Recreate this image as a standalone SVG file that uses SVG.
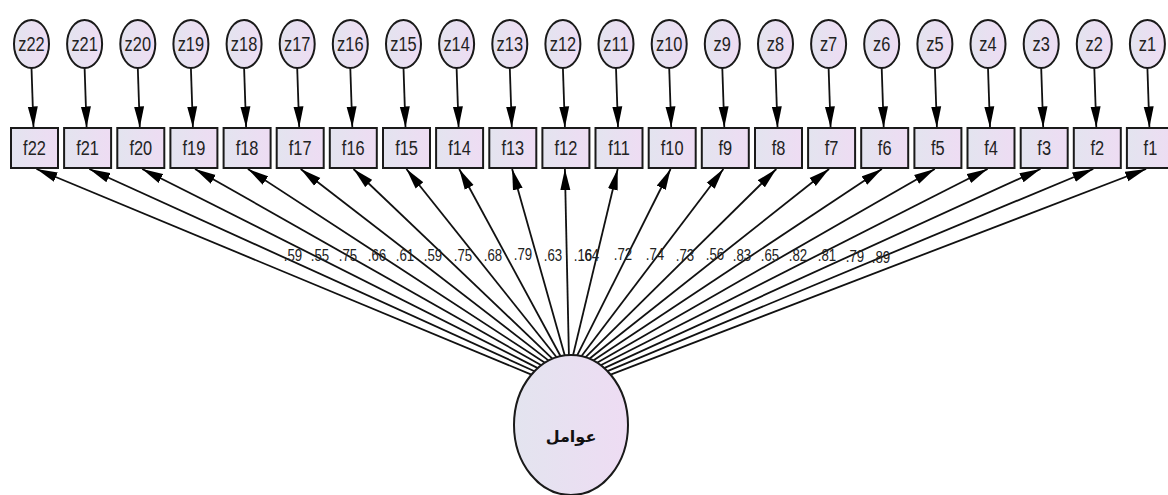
<svg xmlns="http://www.w3.org/2000/svg" width="1168" height="495" viewBox="0 0 1168 495">
<defs>
<linearGradient id="g" x1="0" y1="0" x2="1" y2="0">
<stop offset="0" stop-color="#e3e4ef"/>
<stop offset="1" stop-color="#eedcf3"/>
</linearGradient>
<marker id="ah" markerUnits="userSpaceOnUse" markerWidth="21" markerHeight="11" refX="21" refY="5.5" orient="auto">
<path d="M0,0.5 L21,5.5 L0,10.5 z" fill="#000"/>
</marker>
</defs>
<style>
.bx{fill:url(#g);stroke:#1a1a1a;stroke-width:2}
.el{fill:url(#g);stroke:#1a1a1a;stroke-width:2}
.t{font-family:"Liberation Sans",Arial,sans-serif;font-size:21px;fill:#222;text-anchor:middle}
.lb{font-family:"Liberation Sans",Arial,sans-serif;font-size:17px;fill:#222;text-anchor:middle}
.ln{stroke:#111;stroke-width:1.8;fill:none;marker-end:url(#ah)}
</style>
<rect x="0" y="0" width="1168" height="495" fill="#fff"/>
<g id="connectors">
<line class="ln" x1="31.5" y1="68" x2="33.5" y2="127.5"/>
<line class="ln" x1="84.6" y1="68" x2="86.6" y2="127.5"/>
<line class="ln" x1="137.8" y1="68" x2="139.8" y2="127.5"/>
<line class="ln" x1="190.9" y1="68" x2="192.9" y2="127.5"/>
<line class="ln" x1="244.1" y1="68" x2="246.1" y2="127.5"/>
<line class="ln" x1="297.2" y1="68" x2="299.2" y2="127.5"/>
<line class="ln" x1="350.3" y1="68" x2="352.3" y2="127.5"/>
<line class="ln" x1="403.5" y1="68" x2="405.5" y2="127.5"/>
<line class="ln" x1="456.6" y1="68" x2="458.6" y2="127.5"/>
<line class="ln" x1="509.8" y1="68" x2="511.8" y2="127.5"/>
<line class="ln" x1="562.9" y1="68" x2="564.9" y2="127.5"/>
<line class="ln" x1="616.0" y1="68" x2="618.0" y2="127.5"/>
<line class="ln" x1="669.2" y1="68" x2="671.2" y2="127.5"/>
<line class="ln" x1="722.3" y1="68" x2="724.3" y2="127.5"/>
<line class="ln" x1="775.5" y1="68" x2="777.5" y2="127.5"/>
<line class="ln" x1="828.6" y1="68" x2="830.6" y2="127.5"/>
<line class="ln" x1="881.7" y1="68" x2="883.7" y2="127.5"/>
<line class="ln" x1="934.9" y1="68" x2="936.9" y2="127.5"/>
<line class="ln" x1="988.0" y1="68" x2="990.0" y2="127.5"/>
<line class="ln" x1="1041.2" y1="68" x2="1043.2" y2="127.5"/>
<line class="ln" x1="1094.3" y1="68" x2="1096.3" y2="127.5"/>
<line class="ln" x1="1147.4" y1="68" x2="1149.4" y2="127.5"/>

<line class="ln" x1="531.4" y1="374.6" x2="36.5" y2="169"/>
<line class="ln" x1="534.5" y1="371.2" x2="89.3" y2="169"/>
<line class="ln" x1="537.8" y1="368.1" x2="142.2" y2="169"/>
<line class="ln" x1="541.3" y1="365.3" x2="195.0" y2="169"/>
<line class="ln" x1="544.9" y1="362.8" x2="247.9" y2="169"/>
<line class="ln" x1="548.7" y1="360.6" x2="300.7" y2="169"/>
<line class="ln" x1="552.6" y1="358.8" x2="353.5" y2="169"/>
<line class="ln" x1="556.6" y1="357.3" x2="406.4" y2="169"/>
<line class="ln" x1="560.6" y1="356.2" x2="459.2" y2="169"/>
<line class="ln" x1="564.8" y1="355.4" x2="512.1" y2="169"/>
<line class="ln" x1="568.9" y1="355.0" x2="564.9" y2="169"/>
<line class="ln" x1="573.1" y1="355.0" x2="617.7" y2="169"/>
<line class="ln" x1="577.2" y1="355.4" x2="670.6" y2="169"/>
<line class="ln" x1="581.4" y1="356.2" x2="723.4" y2="169"/>
<line class="ln" x1="585.4" y1="357.3" x2="776.3" y2="169"/>
<line class="ln" x1="589.4" y1="358.8" x2="829.1" y2="169"/>
<line class="ln" x1="593.3" y1="360.6" x2="881.9" y2="169"/>
<line class="ln" x1="597.1" y1="362.8" x2="934.8" y2="169"/>
<line class="ln" x1="600.7" y1="365.3" x2="987.6" y2="169"/>
<line class="ln" x1="604.2" y1="368.1" x2="1040.5" y2="169"/>
<line class="ln" x1="607.5" y1="371.2" x2="1093.3" y2="169"/>
<line class="ln" x1="610.6" y1="374.6" x2="1146.1" y2="169"/>
</g>
<g id="labels" transform="scale(0.78,1)">
<text class="lb" x="375.6" y="261">.59</text>
<text class="lb" x="410.3" y="261">.55</text>
<text class="lb" x="446.2" y="261">.75</text>
<text class="lb" x="483.3" y="261">.66</text>
<text class="lb" x="519.2" y="261">.61</text>
<text class="lb" x="555.1" y="261">.59</text>
<text class="lb" x="593.6" y="261">.75</text>
<text class="lb" x="632.1" y="261">.68</text>
<text class="lb" x="670.5" y="260">.79</text>
<text class="lb" x="709.0" y="261">.63</text>
<text class="lb" x="747.4" y="261">.16</text>
<text class="lb" x="756.4" y="261">.64</text>
<text class="lb" x="798.7" y="260">.72</text>
<text class="lb" x="839.7" y="260">.74</text>
<text class="lb" x="878.2" y="261">.73</text>
<text class="lb" x="916.7" y="260">.56</text>
<text class="lb" x="951.3" y="261">.83</text>
<text class="lb" x="987.2" y="261">.65</text>
<text class="lb" x="1023.1" y="261">.82</text>
<text class="lb" x="1060.3" y="261">.81</text>
<text class="lb" x="1096.2" y="262">.79</text>
<text class="lb" x="1129.5" y="263">.89</text>
</g>
<g id="z22"><ellipse class="el" cx="31.5" cy="44" rx="17.5" ry="24"/><text class="t" transform="scale(0.78,1)" x="40.4" y="51.5">z22</text></g>
<g id="z21"><ellipse class="el" cx="84.6" cy="44" rx="17.5" ry="24"/><text class="t" transform="scale(0.78,1)" x="108.5" y="51.5">z21</text></g>
<g id="z20"><ellipse class="el" cx="137.8" cy="44" rx="17.5" ry="24"/><text class="t" transform="scale(0.78,1)" x="176.7" y="51.5">z20</text></g>
<g id="z19"><ellipse class="el" cx="190.9" cy="44" rx="17.5" ry="24"/><text class="t" transform="scale(0.78,1)" x="244.7" y="51.5">z19</text></g>
<g id="z18"><ellipse class="el" cx="244.1" cy="44" rx="17.5" ry="24"/><text class="t" transform="scale(0.78,1)" x="312.9" y="51.5">z18</text></g>
<g id="z17"><ellipse class="el" cx="297.2" cy="44" rx="17.5" ry="24"/><text class="t" transform="scale(0.78,1)" x="381.0" y="51.5">z17</text></g>
<g id="z16"><ellipse class="el" cx="350.3" cy="44" rx="17.5" ry="24"/><text class="t" transform="scale(0.78,1)" x="449.1" y="51.5">z16</text></g>
<g id="z15"><ellipse class="el" cx="403.5" cy="44" rx="17.5" ry="24"/><text class="t" transform="scale(0.78,1)" x="517.3" y="51.5">z15</text></g>
<g id="z14"><ellipse class="el" cx="456.6" cy="44" rx="17.5" ry="24"/><text class="t" transform="scale(0.78,1)" x="585.4" y="51.5">z14</text></g>
<g id="z13"><ellipse class="el" cx="509.8" cy="44" rx="17.5" ry="24"/><text class="t" transform="scale(0.78,1)" x="653.6" y="51.5">z13</text></g>
<g id="z12"><ellipse class="el" cx="562.9" cy="44" rx="17.5" ry="24"/><text class="t" transform="scale(0.78,1)" x="721.7" y="51.5">z12</text></g>
<g id="z11"><ellipse class="el" cx="616.0" cy="44" rx="17.5" ry="24"/><text class="t" transform="scale(0.78,1)" x="789.7" y="51.5">z11</text></g>
<g id="z10"><ellipse class="el" cx="669.2" cy="44" rx="17.5" ry="24"/><text class="t" transform="scale(0.78,1)" x="857.9" y="51.5">z10</text></g>
<g id="z9"><ellipse class="el" cx="722.3" cy="44" rx="17.5" ry="24"/><text class="t" transform="scale(0.78,1)" x="926.0" y="51.5">z9</text></g>
<g id="z8"><ellipse class="el" cx="775.5" cy="44" rx="17.5" ry="24"/><text class="t" transform="scale(0.78,1)" x="994.2" y="51.5">z8</text></g>
<g id="z7"><ellipse class="el" cx="828.6" cy="44" rx="17.5" ry="24"/><text class="t" transform="scale(0.78,1)" x="1062.3" y="51.5">z7</text></g>
<g id="z6"><ellipse class="el" cx="881.7" cy="44" rx="17.5" ry="24"/><text class="t" transform="scale(0.78,1)" x="1130.4" y="51.5">z6</text></g>
<g id="z5"><ellipse class="el" cx="934.9" cy="44" rx="17.5" ry="24"/><text class="t" transform="scale(0.78,1)" x="1198.6" y="51.5">z5</text></g>
<g id="z4"><ellipse class="el" cx="988.0" cy="44" rx="17.5" ry="24"/><text class="t" transform="scale(0.78,1)" x="1266.7" y="51.5">z4</text></g>
<g id="z3"><ellipse class="el" cx="1041.2" cy="44" rx="17.5" ry="24"/><text class="t" transform="scale(0.78,1)" x="1334.9" y="51.5">z3</text></g>
<g id="z2"><ellipse class="el" cx="1094.3" cy="44" rx="17.5" ry="24"/><text class="t" transform="scale(0.78,1)" x="1402.9" y="51.5">z2</text></g>
<g id="z1"><ellipse class="el" cx="1147.4" cy="44" rx="17.5" ry="24"/><text class="t" transform="scale(0.78,1)" x="1471.0" y="51.5">z1</text></g>

<g id="f22"><rect class="bx" x="11.0" y="128" width="47" height="40"/><text class="t" transform="scale(0.78,1)" x="44.2" y="155.5">f22</text></g>
<g id="f21"><rect class="bx" x="64.1" y="128" width="47" height="40"/><text class="t" transform="scale(0.78,1)" x="112.3" y="155.5">f21</text></g>
<g id="f20"><rect class="bx" x="117.3" y="128" width="47" height="40"/><text class="t" transform="scale(0.78,1)" x="180.5" y="155.5">f20</text></g>
<g id="f19"><rect class="bx" x="170.4" y="128" width="47" height="40"/><text class="t" transform="scale(0.78,1)" x="248.6" y="155.5">f19</text></g>
<g id="f18"><rect class="bx" x="223.6" y="128" width="47" height="40"/><text class="t" transform="scale(0.78,1)" x="316.8" y="155.5">f18</text></g>
<g id="f17"><rect class="bx" x="276.7" y="128" width="47" height="40"/><text class="t" transform="scale(0.78,1)" x="384.9" y="155.5">f17</text></g>
<g id="f16"><rect class="bx" x="329.8" y="128" width="47" height="40"/><text class="t" transform="scale(0.78,1)" x="452.9" y="155.5">f16</text></g>
<g id="f15"><rect class="bx" x="383.0" y="128" width="47" height="40"/><text class="t" transform="scale(0.78,1)" x="521.2" y="155.5">f15</text></g>
<g id="f14"><rect class="bx" x="436.1" y="128" width="47" height="40"/><text class="t" transform="scale(0.78,1)" x="589.2" y="155.5">f14</text></g>
<g id="f13"><rect class="bx" x="489.3" y="128" width="47" height="40"/><text class="t" transform="scale(0.78,1)" x="657.4" y="155.5">f13</text></g>
<g id="f12"><rect class="bx" x="542.4" y="128" width="47" height="40"/><text class="t" transform="scale(0.78,1)" x="725.5" y="155.5">f12</text></g>
<g id="f11"><rect class="bx" x="595.5" y="128" width="47" height="40"/><text class="t" transform="scale(0.78,1)" x="793.6" y="155.5">f11</text></g>
<g id="f10"><rect class="bx" x="648.7" y="128" width="47" height="40"/><text class="t" transform="scale(0.78,1)" x="861.8" y="155.5">f10</text></g>
<g id="f9"><rect class="bx" x="701.8" y="128" width="47" height="40"/><text class="t" transform="scale(0.78,1)" x="929.9" y="155.5">f9</text></g>
<g id="f8"><rect class="bx" x="755.0" y="128" width="47" height="40"/><text class="t" transform="scale(0.78,1)" x="998.1" y="155.5">f8</text></g>
<g id="f7"><rect class="bx" x="808.1" y="128" width="47" height="40"/><text class="t" transform="scale(0.78,1)" x="1066.2" y="155.5">f7</text></g>
<g id="f6"><rect class="bx" x="861.2" y="128" width="47" height="40"/><text class="t" transform="scale(0.78,1)" x="1134.2" y="155.5">f6</text></g>
<g id="f5"><rect class="bx" x="914.4" y="128" width="47" height="40"/><text class="t" transform="scale(0.78,1)" x="1202.4" y="155.5">f5</text></g>
<g id="f4"><rect class="bx" x="967.5" y="128" width="47" height="40"/><text class="t" transform="scale(0.78,1)" x="1270.5" y="155.5">f4</text></g>
<g id="f3"><rect class="bx" x="1020.7" y="128" width="47" height="40"/><text class="t" transform="scale(0.78,1)" x="1338.7" y="155.5">f3</text></g>
<g id="f2"><rect class="bx" x="1073.8" y="128" width="47" height="40"/><text class="t" transform="scale(0.78,1)" x="1406.8" y="155.5">f2</text></g>
<g id="f1"><rect class="bx" x="1126.9" y="128" width="47" height="40"/><text class="t" transform="scale(0.78,1)" x="1474.9" y="155.5">f1</text></g>

<g id="factor"><ellipse class="el" cx="571" cy="425" rx="57" ry="70"/><text x="571" y="442" font-family="'DejaVu Sans',sans-serif" font-size="16" font-weight="bold" fill="#111" text-anchor="middle" direction="rtl">عوامل</text></g>
</svg>
